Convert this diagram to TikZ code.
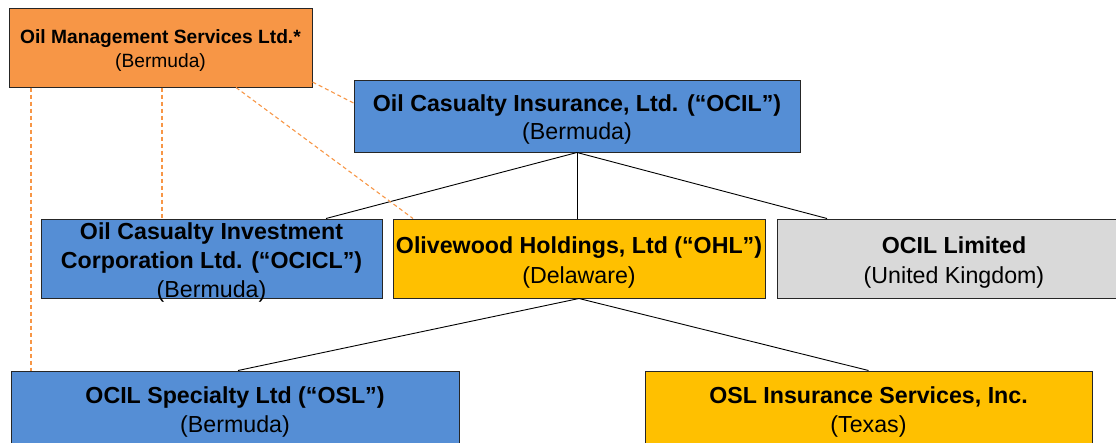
\documentclass[tikz,border=0pt]{standalone}
\usepackage{fontspec}
\setmainfont{Liberation Sans}
\usetikzlibrary{calc}
\definecolor{omsorange}{HTML}{F79646}
\definecolor{ocilblue}{HTML}{558ED5}
\definecolor{ohlyellow}{HTML}{FFC000}
\definecolor{ukgray}{HTML}{D9D9D9}
\definecolor{boxline}{HTML}{262626}
\begin{document}
\begin{tikzpicture}[x=1pt,y=-1pt,
  box/.style={draw=boxline, line width=1pt, inner sep=0pt},
  txt/.style={inner sep=0pt, align=center, font=\fontsize{23.2}{29}\selectfont},
  link/.style={draw=black, line width=0.9pt},
  mgmt/.style={draw=omsorange, line width=1.1pt, dash pattern=on 4pt off 3pt}]
\useasboundingbox (0,0) rectangle (1116,442);
\begin{scope}
\clip (0,0) rectangle (1116,442);
\node[box, fill=omsorange, minimum width=303pt, minimum height=79pt] (oms) at (160.5,47.5) {};
\node[txt, font=\fontsize{19.2}{24}\selectfont] (oms-t) at ($(oms)+(0,3.5)$)
  {\textbf{Oil Management Services Ltd.*}\\(Bermuda)};
\node[box, fill=ocilblue, minimum width=446pt, minimum height=72pt] (ocil) at (577,116) {};
\node[txt, font=\fontsize{23.2}{28}\selectfont] (ocil-t) at ($(ocil)+(0,3)$)
  {\textbf{Oil Casualty Insurance, Ltd. (“OCIL”)}\\(Bermuda)};
\node[box, fill=ocilblue, minimum width=341pt, minimum height=79pt] (ocicl) at (211.5,258.5) {};
\node[txt, font=\fontsize{23.2}{29}\selectfont] (ocicl-t) at ($(ocicl)+(0,3.5)$)
  {\textbf{Oil Casualty Investment}\\\textbf{Corporation Ltd. (“OCICL”)}\\(Bermuda)};
\node[box, fill=ohlyellow, minimum width=372pt, minimum height=79pt] (ohl) at (579,258.5) {};
\node[txt, font=\fontsize{23.2}{30}\selectfont] (ohl-t) at ($(ohl)+(0,3.5)$)
  {\textbf{Olivewood Holdings, Ltd (“OHL”)}\\(Delaware)};
\node[box, fill=ukgray, minimum width=354pt, minimum height=79pt] (ocilltd) at (954,258.5) {};
\node[txt, font=\fontsize{23.2}{30}\selectfont] (ocilltd-t) at ($(ocilltd)+(0,3.5)$)
  {\textbf{OCIL Limited}\\(United Kingdom)};
\node[box, fill=ocilblue, minimum width=448pt, minimum height=78pt] (osl) at (235,410) {};
\node[txt, font=\fontsize{23.2}{29}\selectfont] (osl-t) at ($(osl)+(0,2)$)
  {\textbf{OCIL Specialty Ltd (“OSL”)}\\(Bermuda)};
\node[box, fill=ohlyellow, minimum width=447pt, minimum height=78pt] (oslins) at (868.5,410) {};
\node[txt, font=\fontsize{23.2}{29}\selectfont] (oslins-t) at ($(oslins)+(0,2)$)
  {\textbf{OSL Insurance Services, Inc.}\\(Texas)};
\end{scope}
% ownership links
\draw[link] (ocil.south) -- ($(ocicl.north)+(114.5,0)$);
\draw[link] (ocil.south) -- (ocil.south |- ohl.north);
\draw[link] (ocil.south) -- ($(ocilltd.north)+(-127,0)$);
\draw[link] (ohl.south) -- ($(osl.north)+(3,0)$);
\draw[link] (ohl.south) -- (oslins.north);
% management links
\draw[mgmt] ($(oms.south)+(-129.5,0)$) -- ($(osl.north)+(-204,0)$);
\draw[mgmt] ($(oms.south)+(1.5,0)$) -- ($(ocicl.north)+(-49.5,0)$);
\draw[mgmt] ($(oms.south)+(75.5,0)$) -- ($(ohl.north)+(-166,0)$);
\draw[mgmt] ($(oms.east)+(0,34.5)$) -- ($(ocil.west)+(0,-13)$);
\end{tikzpicture}
\end{document}
